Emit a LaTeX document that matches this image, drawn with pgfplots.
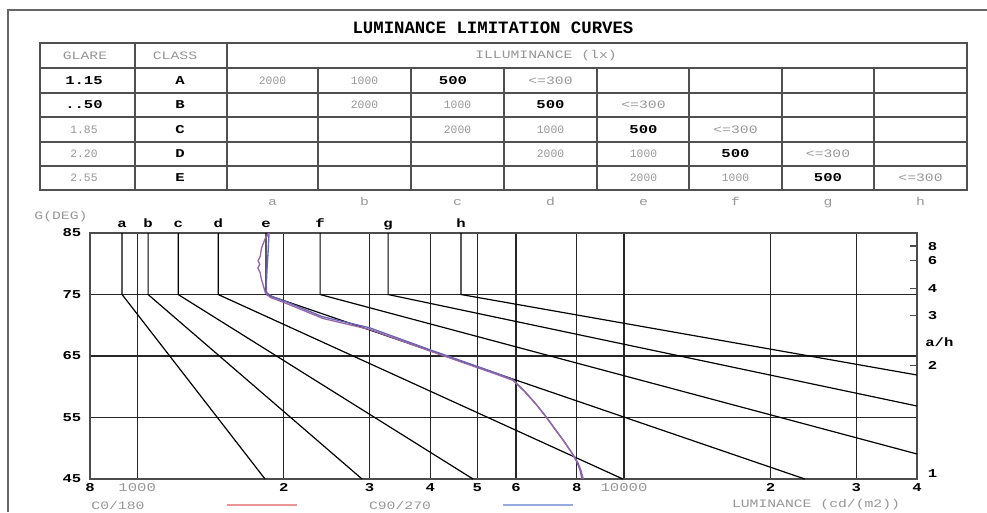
\documentclass[border=0pt]{standalone}
\usepackage{fontspec}
\setmainfont{Liberation Mono}
\newfontfamily\wide[FakeStretch=1.3]{Liberation Mono}
\usepackage{pgfplots}
\pgfplotsset{compat=1.18}
\definecolor{fadetext}{RGB}{150,150,150}
\definecolor{tline}{RGB}{80,80,80}
\definecolor{legred}{RGB}{236,150,150}
\definecolor{legblue}{RGB}{150,170,222}
\definecolor{curvered}{RGB}{150,105,165}
\definecolor{curveblue}{RGB}{105,100,185}
\newcommand{\fs}[1]{\fontsize{#1}{#1}\selectfont}
\begin{document}
\begin{tikzpicture}
\begin{scope}[x=0.75pt,y=-0.75pt]
\path[use as bounding box] (0,0) rectangle (987,512);
% outer frame
\draw[line width=1.1pt, black!60] (8,512) -- (8,10) -- (987,10);
% title
\node[font=\fs{13}\bfseries] at (493,28) {LUMINANCE LIMITATION CURVES};
% table
\begin{scope}[line width=1pt, draw=tline]
\draw (40,43) rectangle (967,190);
\foreach \yy in {68,93,117,142,166} \draw (40,\yy) -- (967,\yy);
\foreach \xx in {135,227} \draw (\xx,43) -- (\xx,190);
\foreach \xx in {318,411,504,597,689,782,874} \draw (\xx,68) -- (\xx,190);
\end{scope}
\begin{scope}[every node/.style={font=\fs{8.5}, text=fadetext, inner sep=0pt},
  bf/.style={text=black,font=\wide\fs{9}\bfseries},
  wd/.style={font=\wide\fs{8.5}}]
\node[wd] at (85,56) {GLARE};
\node[wd] at (175,56) {CLASS};
\node[wd] at (546,56) {ILLUMINANCE (lx)};
% row A
\node[bf] at (84,81) {1.15};
\node[bf] at (180,81) {A};
\node at (272.5,81) {2000};
\node at (364.5,81) {1000};
\node[bf] at (453,81) {500};
\node[wd] at (550.5,81) {<=300};
% row B
\node[bf] at (84,105) {..50};
\node[bf] at (180,105) {B};
\node at (364.5,105) {2000};
\node at (457.5,105) {1000};
\node[bf] at (550.5,105) {500};
\node[wd] at (643.5,105) {<=300};
% row C
\node at (84,129.5) {1.85};
\node[bf] at (180,129.5) {C};
\node at (457.5,129.5) {2000};
\node at (550.5,129.5) {1000};
\node[bf] at (643.5,129.5) {500};
\node[wd] at (735.5,129.5) {<=300};
% row D
\node at (84,154) {2.20};
\node[bf] at (180,154) {D};
\node at (550.5,154) {2000};
\node at (643.5,154) {1000};
\node[bf] at (735.5,154) {500};
\node[wd] at (828,154) {<=300};
% row E
\node at (84,178) {2.55};
\node[bf] at (180,178) {E};
\node at (643.5,178) {2000};
\node at (735.5,178) {1000};
\node[bf] at (828,178) {500};
\node[wd] at (920.5,178) {<=300};
% column letters
\foreach \xx/\ll in {272.5/a,364.5/b,457.5/c,550.5/d,643.5/e,735.5/f,828/g,920.5/h}
  \node[wd, anchor=base] at (\xx,205) {\ll};
\node[wd] at (61,217) {G(DEG)};
\node[wd] at (118,505) {C0/180};
\node[wd] at (400,505) {C90/270};
\node[wd] at (816,505) {LUMINANCE (cd/(m2))};
\end{scope}
\draw[legred, line width=1.5pt] (227,505) -- (297,505);
\draw[legblue, line width=1.5pt] (503,505) -- (573,505);
\end{scope}
% chart
\begin{axis}[
  at={(67.5pt,-359.25pt)}, anchor=south west,
  scale only axis, width=620.25pt, height=184.5pt,
  xmode=log, xmin=800, xmax=40000, ymin=45, ymax=85,
  clip=false,
  xtick={800,1000,2000,3000,4000,5000,6000,8000,10000,20000,30000,40000},
  xticklabels={\textbf{8},{\color{fadetext}1000},\textbf{2},\textbf{3},\textbf{4},\textbf{5},\textbf{6},\textbf{8},{\color{fadetext}10000},\textbf{2},\textbf{3},\textbf{4}},
  ytick={45,55,65,75,85},
  yticklabels={\textbf{45},\textbf{55},\textbf{65},\textbf{75},\textbf{85}},
  grid=major,
  major grid style={black!85, line width=1pt},
  tick style={draw=none},
  axis line style={black!70, line width=1.2pt},
  every tick label/.append style={font=\wide\fs{9}},
  xticklabel style={inner sep=1pt, yshift=-2pt},
  yticklabel style={xshift=-3pt},
]
% luminance limitation lines a..h
\addplot[black, line width=0.9pt] coordinates {(931,85) (931,75) (1831,45)};
\addplot[black, line width=0.9pt] coordinates {(1053,85) (1053,75) (2897,45)};
\addplot[black, line width=0.9pt] coordinates {(1214,85) (1214,75) (4897,45)};
\addplot[black, line width=0.9pt] coordinates {(1467,85) (1467,75) (9950,45)};
\addplot[black, line width=0.9pt] coordinates {(1840,85) (1840,75) (23530,45)};
\addplot[black, line width=0.9pt] coordinates {(2376,85) (2376,75) (40000,49.07)};
\addplot[black, line width=0.9pt] coordinates {(3277,85) (3277,75) (40000,56.87)};
\addplot[black, line width=0.9pt] coordinates {(4627,85) (4627,75) (40000,61.91)};
% luminance curves
\addplot[curveblue, line width=1pt] coordinates {
 (1866,85) (1858,82) (1848,79) (1842,76.5) (1845,75.3) (1900,74.6) (2000,74.0)
 (2400,71.4) (3000,69.6) (4000,66.0) (5000,63.3) (5430,62.3) (5900,61.2)
 (6250,59.3) (6610,57.1) (6940,55.0) (7240,53.0) (7490,51.4) (7780,49.5)
 (8000,47.8) (8120,46.5) (8200,45)};
\addplot[curvered, line width=1pt] coordinates {
 (1866,85) (1830,84) (1800,82.5) (1790,81.2) (1772,80.5) (1786,79.9) (1770,79.3)
 (1790,78.5) (1797,77.7) (1820,76.2) (1835,75.2) (1880,74.5) (1990,73.8)
 (2410,71.1) (3010,69.3) (4000,65.8) (5000,63.1) (5440,62.1) (5930,61.0)
 (6270,59.1) (6640,56.9) (6960,54.8) (7260,52.8) (7520,51.2) (7810,49.3)
 (8040,47.7) (8160,46.4) (8250,45)};
% top letters
\foreach \L/\ll in {931/a,1053/b,1214/c,1467/d,1840/e,2376/f,3277/g,4627/h}{
  \edef\tmp{\noexpand\node[font=\noexpand\wide\noexpand\fs{9}\noexpand\bfseries, anchor=base, inner sep=0pt, yshift=4pt] at (axis cs:\L,85) {\ll};}
  \tmp
}
% right a/h scale
\foreach \ang/\lab in {82.87/8,80.54/6,75.96/4,71.57/3,63.43/2}{
  \edef\tmp{\noexpand\draw[black!70, line width=1pt] (axis cs:40000,\ang) -- ++(-5.5pt,0pt);
  \noexpand\node[font=\noexpand\wide\noexpand\fs{9}\noexpand\bfseries, anchor=west, inner sep=0pt, xshift=8pt] at (axis cs:40000,\ang) {\lab};}
  \tmp
}
\node[font=\wide\fs{9}\bfseries, anchor=west, inner sep=0pt, xshift=6pt] at (axis cs:40000,67.2) {a/h};
\node[font=\wide\fs{9}\bfseries, anchor=west, inner sep=0pt, xshift=8pt] at (axis cs:40000,45.9) {1};
\end{axis}
\end{tikzpicture}
\end{document}
